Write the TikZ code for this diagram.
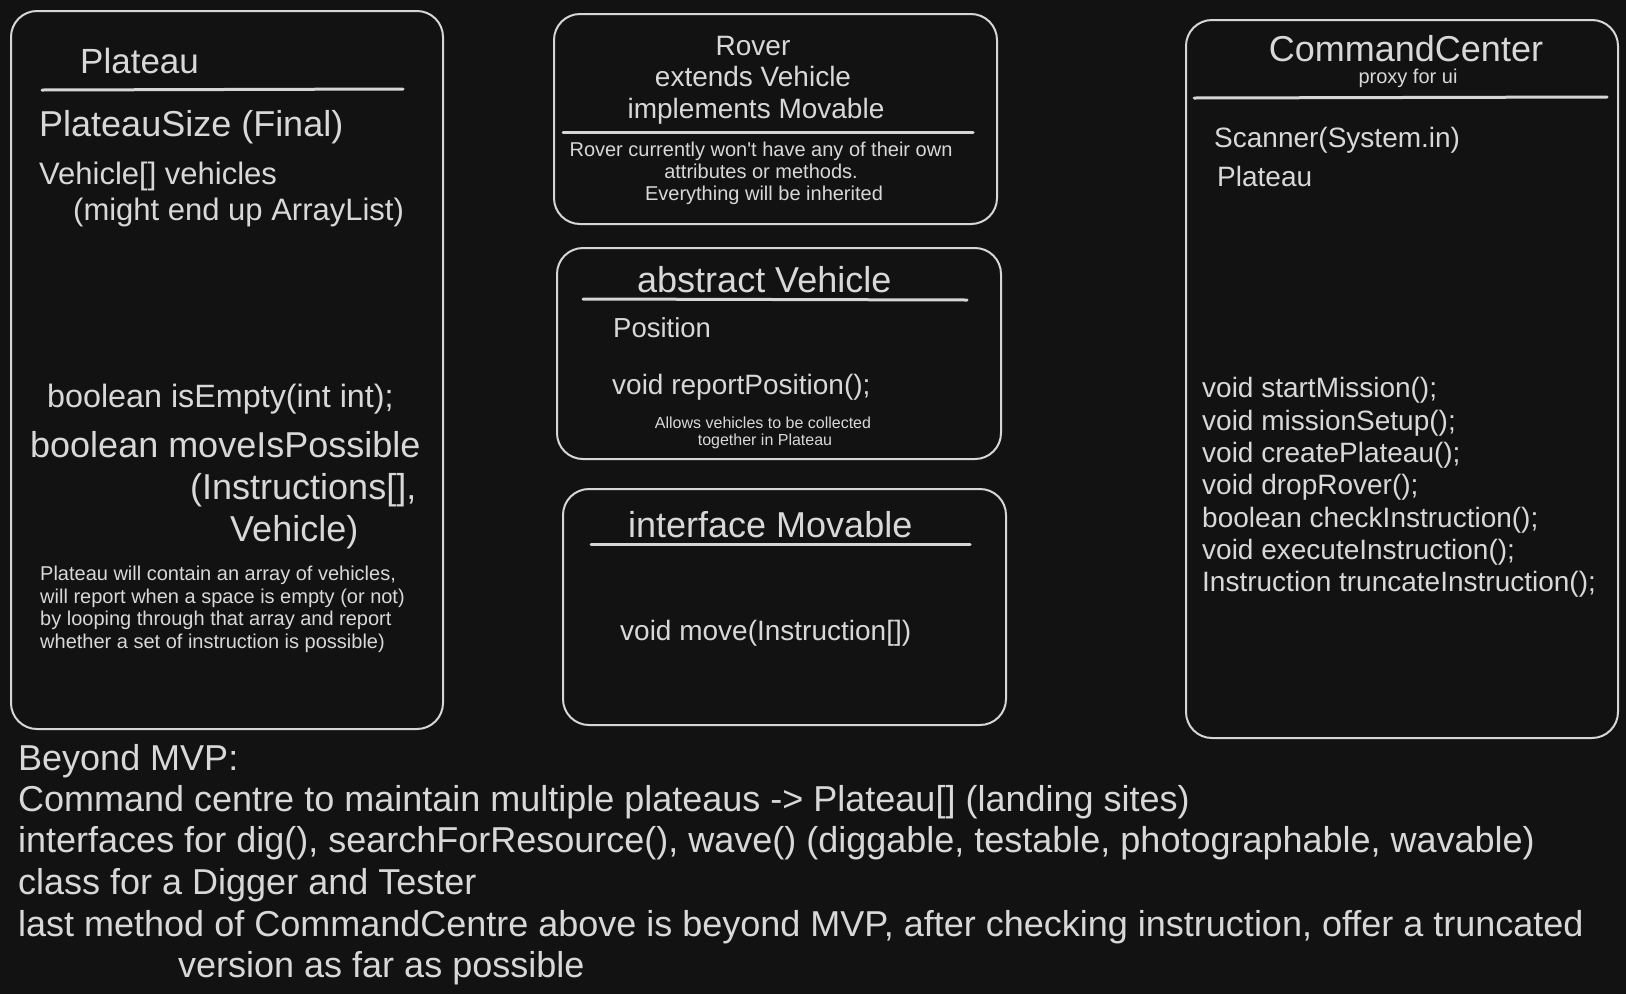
\documentclass[tikz,border=0pt]{standalone}
\usepackage{fontspec}
\setmainfont{Liberation Sans}
\definecolor{bg}{HTML}{121212}
\definecolor{fg}{HTML}{D8D8D8}
\definecolor{ln}{HTML}{D6D6D6}
\tikzset{
  box/.style={draw=ln, line width=2pt, rounded corners=26pt, inner sep=0pt, anchor=north west},
  rulel/.style={draw=ln, line width=3pt, line cap=round},
  txt/.style={text=fg, inner sep=0pt, anchor=base west},
  ctxt/.style={text=fg, inner sep=0pt, anchor=base},
  fs/.style={font=\fontsize{#1}{#1}\selectfont}
}
\begin{document}
\begin{tikzpicture}[x=1pt,y=-1pt]
\fill[bg] (0,0) rectangle (1626,994);
\useasboundingbox (0,0) rectangle (1626,994);

% ---------- Plateau ----------
\node[box, minimum width=432pt, minimum height=718pt] (plateau) at (10,10) {};
\node[txt, fs=35] (pTitle) at (80,73) {Plateau};
\coordinate (pr1) at (42,90); \coordinate (pr2) at (403,89);
\draw[rulel] (pr1) -- (pr2);
\node[txt, fs=36] (pSize) at (39,136) {PlateauSize (Final)};
\node[txt, fs=31] (pVeh) at (39,184) {Vehicle[] vehicles};
\node[txt, fs=31] (pVeh2) at (73,220) {(might end up ArrayList)};
\node[txt, fs=32.3] (pEmpty) at (47,407) {boolean isEmpty(int int);};
\node[txt, fs=36] (pMove1) at (30,457) {boolean moveIsPossible};
\node[txt, fs=36] (pMove2) at (190,499) {(Instructions[],};
\node[txt, fs=36] (pMove3) at (230,541) {Vehicle)};
\node[txt, fs=20] (pN1) at (40,580) {Plateau will contain an array of vehicles,};
\node[txt, fs=20] (pN2) at (40,603) {will report when a space is empty (or not)};
\node[txt, fs=20] (pN3) at (40,625) {by looping through that array and report};
\node[txt, fs=20] (pN4) at (40,648) {whether a set of instruction is possible)};

% ---------- Rover ----------
\node[box, minimum width=443pt, minimum height=210pt] (rover) at (553,13) {};
\node[ctxt, fs=28] (rT1) at (753,55) {Rover};
\node[ctxt, fs=28] (rT2) at (753,86) {extends Vehicle};
\node[ctxt, fs=28] (rT3) at (756,118) {implements Movable};
\coordinate (rr1) at (563,132); \coordinate (rr2) at (973,132);
\draw[rulel] (rr1) -- (rr2);
\node[ctxt, fs=20] (rN1) at (761,156) {Rover currently won\textquotesingle t have any of their own};
\node[ctxt, fs=20] (rN2) at (761,178) {attributes or methods.};
\node[ctxt, fs=20] (rN3) at (764,200) {Everything will be inherited};

% ---------- abstract Vehicle ----------
\node[box, minimum width=444pt, minimum height=211pt] (vehicle) at (556,247) {};
\node[txt, fs=36] (vT) at (637,292) {abstract Vehicle};
\coordinate (vr1) at (583,299); \coordinate (vr2) at (967,300);
\draw[rulel] (vr1) -- (vr2);
\node[txt, fs=27.5] (vPos) at (613,337) {Position};
\node[txt, fs=28] (vRep) at (612,394) {void reportPosition();};
\node[ctxt, fs=16] (vN1) at (763,428) {Allows vehicles to be collected};
\node[ctxt, fs=16] (vN2) at (765,445) {together in Plateau};

% ---------- interface Movable ----------
\node[box, minimum width=443pt, minimum height=236pt] (movable) at (562,488) {};
\node[txt, fs=36] (mT) at (628,537) {interface Movable};
\coordinate (mr1) at (591,544); \coordinate (mr2) at (970,544);
\draw[rulel] (mr1) -- (mr2);
\node[txt, fs=28] (mMove) at (620,640) {void move(Instruction[])};

% ---------- CommandCenter ----------
\node[box, minimum width=432pt, minimum height=718pt] (command) at (1185,19) {};
\node[ctxt, fs=36] (cT) at (1406,61) {CommandCenter};
\node[ctxt, fs=20] (cSub) at (1408,83) {proxy for ui};
\coordinate (cr1) at (1194,98); \coordinate (cr2) at (1607,97);
\draw[rulel] (cr1) -- (cr2);
\node[txt, fs=28] (cScan) at (1214,147) {Scanner(System.in)};
\node[txt, fs=28] (cPlat) at (1217,186) {Plateau};
\node[txt, fs=28] (cM1) at (1202,397) {void startMission();};
\node[txt, fs=28] (cM2) at (1202,430) {void missionSetup();};
\node[txt, fs=28] (cM3) at (1202,462) {void createPlateau();};
\node[txt, fs=28] (cM4) at (1202,494) {void dropRover();};
\node[txt, fs=28] (cM5) at (1202,527) {boolean checkInstruction();};
\node[txt, fs=28] (cM6) at (1202,559) {void executeInstruction();};
\node[txt, fs=28] (cM7) at (1202,591) {Instruction truncateInstruction();};

% ---------- Beyond MVP ----------
\node[txt, fs=36] (b1) at (18,770) {Beyond MVP:};
\node[txt, fs=36] (b2) at (18,811) {Command centre to maintain multiple plateaus -> Plateau[] (landing sites)};
\node[txt, fs=36] (b3) at (18,852) {interfaces for dig(), searchForResource(), wave() (diggable, testable, photographable, wavable)};
\node[txt, fs=36] (b4) at (18,894) {class for a Digger and Tester};
\node[txt, fs=36] (b5) at (18,936) {last method of CommandCentre above is beyond MVP, after checking instruction, offer a truncated};
\node[txt, fs=36] (b6) at (178,977) {version as far as possible};
\end{tikzpicture}
\end{document}
